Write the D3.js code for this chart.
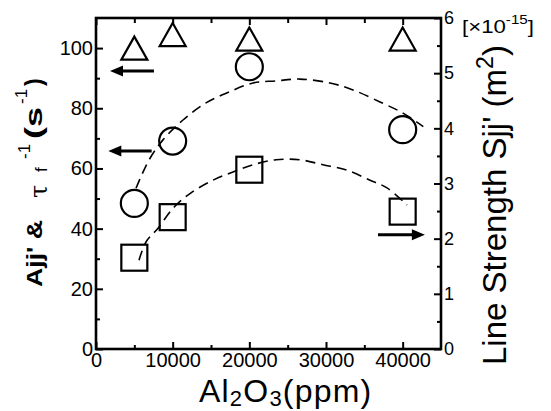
<!DOCTYPE html>
<html>
<head>
<meta charset="utf-8">
<script src="https://cdn.jsdelivr.net/npm/d3@7"></script>
<style>
  body { margin: 0; background: #fff; }
  svg { font-family: "Liberation Sans", Arial, sans-serif; }
</style>
</head>
<body>
<div id="container"></div>
<script>

// Al2O3 concentrations (ppm)
const conc = [5000, 10000, 20000, 40000];
// left axis (s^-1)
const tauInv = [100, 104.5, 103, 103];      // triangles
const aRate = [48.4, 69.1, 93.8, 72.9];     // circles
// right axis (x1e-15 m^2)
const lineS = [1.655, 2.39, 3.25, 2.49];    // squares

// dashed guide curves
const fitAX = [5220, 6910, 8740, 11350, 14350, 17350, 20480, 23480, 26610, 30520, 33520, 37040, 40040, 42690];
const fitAY = [53.4, 62.8, 69.5, 76.1, 81.8, 85.4, 88.4, 89.1, 89.7, 88.4, 86.1, 82.1, 78.4, 73.9];
const fitSX = [5610, 6520, 8090, 10170, 12390, 15260, 17870, 20480, 23480, 26610, 29610, 32740, 35740, 37960, 40560];
const fitSY = [1.61, 1.94, 2.19, 2.57, 2.83, 3.06, 3.21, 3.34, 3.43, 3.43, 3.34, 3.24, 3.06, 2.92, 2.61];

// arrows: which axis each series belongs to
const arrowTail = [7560, 7260, 36780];
const arrowTip = [1830, 1610, 42900];
const arrowVal = [92.4, 65.8, 2.07];
const arrowAxis = ["left", "left", "right"];

const xTicks = [0, 10000, 20000, 30000, 40000];
const xMinor = [5000, 15000, 25000, 35000];
const yLTicks = [0, 20, 40, 60, 80, 100];
const yLMinor = [10, 30, 50, 70, 90];
const yRTicks = [0, 1, 2, 3, 4, 5, 6];
const yRMinor = [0.5, 1.5, 2.5, 3.5, 4.5, 5.5];

const W = 551, H = 411;
const pL = 96, pR = 441, pT = 18, pB = 349;

const x = d3.scaleLinear().domain([0, 45000]).range([pL, pR]);
const yL = d3.scaleLinear().domain([0, 110]).range([pB, pT]);
const yR = d3.scaleLinear().domain([0, 6]).range([pB, pT]);

const svg = d3.create("svg").attr("width", W).attr("height", H);

// ticks, all pointing inward
function axisStyle(g) {
  g.select(".domain").remove();
  g.selectAll("line").attr("stroke", "#000").attr("stroke-width", 2);
  g.selectAll("text").attr("fill", "#000");
}

svg.append("g").attr("transform", `translate(0,${pB})`)
  .call(d3.axisBottom(x).tickValues(xTicks).tickSizeInner(-7).tickSizeOuter(0).tickPadding(4).tickFormat(d3.format("d")))
  .call(axisStyle).attr("font-size", 20).attr("font-family", null);
svg.append("g").attr("transform", `translate(0,${pB})`)
  .call(d3.axisBottom(x).tickValues(xMinor).tickSizeInner(-4).tickSizeOuter(0).tickFormat(""))
  .call(axisStyle);
svg.append("g").attr("transform", `translate(0,${pT})`)
  .call(d3.axisTop(x).tickValues(xTicks).tickSizeInner(-7).tickSizeOuter(0).tickFormat(""))
  .call(axisStyle);
svg.append("g").attr("transform", `translate(0,${pT})`)
  .call(d3.axisTop(x).tickValues(xMinor).tickSizeInner(-5).tickSizeOuter(0).tickFormat(""))
  .call(axisStyle);

svg.append("g").attr("transform", `translate(${pL},0)`)
  .call(d3.axisLeft(yL).tickValues(yLTicks).tickSizeInner(-7).tickSizeOuter(0).tickPadding(3))
  .call(axisStyle).attr("font-size", 20).attr("font-family", null);
svg.append("g").attr("transform", `translate(${pL},0)`)
  .call(d3.axisLeft(yL).tickValues(yLMinor).tickSizeInner(-4).tickSizeOuter(0).tickFormat(""))
  .call(axisStyle);

svg.append("g").attr("transform", `translate(${pR},0)`)
  .call(d3.axisRight(yR).tickValues(yRTicks).tickSizeInner(-7).tickSizeOuter(0).tickPadding(3).tickFormat(d3.format("d")))
  .call(axisStyle).attr("font-size", 18).attr("font-family", null);
svg.append("g").attr("transform", `translate(${pR},0)`)
  .call(d3.axisRight(yR).tickValues(yRMinor).tickSizeInner(-4).tickSizeOuter(0).tickFormat(""))
  .call(axisStyle);

// frame
svg.append("rect")
  .attr("x", pL).attr("y", pT)
  .attr("width", pR - pL).attr("height", pB - pT)
  .attr("fill", "none").attr("stroke", "#000").attr("stroke-width", 2.6);

// dashed curves
const lineA = d3.line().x((d, i) => x(fitAX[i])).y(d => yL(d)).curve(d3.curveCatmullRom);
const lineS2 = d3.line().x((d, i) => x(fitSX[i])).y(d => yR(d)).curve(d3.curveCatmullRom);
svg.append("path").attr("d", lineA(fitAY))
  .attr("fill", "none").attr("stroke", "#000").attr("stroke-width", 1.6).attr("stroke-dasharray", "10,6");
svg.append("path").attr("d", lineS2(fitSY))
  .attr("fill", "none").attr("stroke", "#000").attr("stroke-width", 1.6).attr("stroke-dasharray", "10,6");

// markers
const mk = svg.append("g").attr("fill", "none").attr("stroke", "#000").attr("stroke-width", 2.2);
mk.selectAll("path.tri").data(tauInv).enter().append("path")
  .attr("transform", (d, i) => `translate(${x(conc[i])},${yL(d)})`)
  .attr("d", "M0,-11.5L13,11.5L-13,11.5Z");
mk.selectAll("circle").data(aRate).enter().append("circle")
  .attr("cx", (d, i) => x(conc[i])).attr("cy", d => yL(d)).attr("r", 13.5);
mk.selectAll("rect").data(lineS).enter().append("rect")
  .attr("x", (d, i) => x(conc[i]) - 13).attr("y", d => yR(d) - 13)
  .attr("width", 26).attr("height", 26);

// arrows
arrowVal.forEach((v, i) => {
  const yy = arrowAxis[i] === "left" ? yL(v) : yR(v);
  const x0 = x(arrowTail[i]), x1 = x(arrowTip[i]);
  const dir = x1 > x0 ? 1 : -1;
  svg.append("line").attr("x1", x0).attr("x2", x1 - dir * 10).attr("y1", yy).attr("y2", yy)
    .attr("stroke", "#000").attr("stroke-width", 3);
  svg.append("path")
    .attr("d", `M${x1},${yy}L${x1 - dir * 13},${yy - 5.5}L${x1 - dir * 13},${yy + 5.5}Z`)
    .attr("fill", "#000");
});

// left title
const lt = svg.append("text").attr("transform", "translate(42,287) rotate(-90)").attr("fill", "#000");
lt.append("tspan").attr("x", 0).attr("font-weight", "bold").attr("font-size", 22)
  .attr("textLength", 67).attr("lengthAdjust", "spacingAndGlyphs").text("Ajj' &");
lt.append("tspan").attr("x", 89).attr("dy", 5).attr("font-size", 24)
  .attr("font-family", "'DejaVu Serif', serif").text("τ");
lt.append("tspan").attr("x", 115).attr("font-size", 17).text("f");
lt.append("tspan").attr("x", 128).attr("dy", -17).attr("font-size", 17).text("-1");
lt.append("tspan").attr("x", 148).attr("dy", 12).attr("font-weight", "bold").attr("font-size", 23)
  .attr("textLength", 32).attr("lengthAdjust", "spacingAndGlyphs").text("(s");
lt.append("tspan").attr("x", 183).attr("dy", -15).attr("font-size", 17).text("-1");
lt.append("tspan").attr("x", 201).attr("dy", 15).attr("font-weight", "bold").attr("font-size", 23).text(")");

// right title
const rt = svg.append("text").attr("transform", "translate(506,365) rotate(-90)")
  .attr("font-size", 33).attr("fill", "#000");
rt.append("tspan").text("Line Strength Sjj' (m");
rt.append("tspan").attr("dy", -13).attr("font-size", 23).text("2");
rt.append("tspan").attr("dy", 13).text(")");

// scale factor note
const sf = svg.append("text").attr("x", 462).attr("y", 33).attr("font-size", 19).attr("fill", "#000")
  .attr("textLength", 72).attr("lengthAdjust", "spacingAndGlyphs");
sf.append("tspan").text("[×10");
sf.append("tspan").attr("dy", -9).attr("font-size", 13).text("-15");
sf.append("tspan").attr("dy", 9).text("]");

// bottom title
const bt = svg.append("text").attr("x", 199).attr("y", 402).attr("font-size", 32).attr("fill", "#000")
  .attr("letter-spacing", 1.2);
bt.append("tspan").text("Al");
bt.append("tspan").attr("dy", 4).attr("font-size", 22).text("2");
bt.append("tspan").attr("dy", -4).text("O");
bt.append("tspan").attr("dy", 4).attr("font-size", 22).text("3");
bt.append("tspan").attr("dy", -4).text("(ppm)");

container.append(svg.node());
</script>
</body>
</html>
